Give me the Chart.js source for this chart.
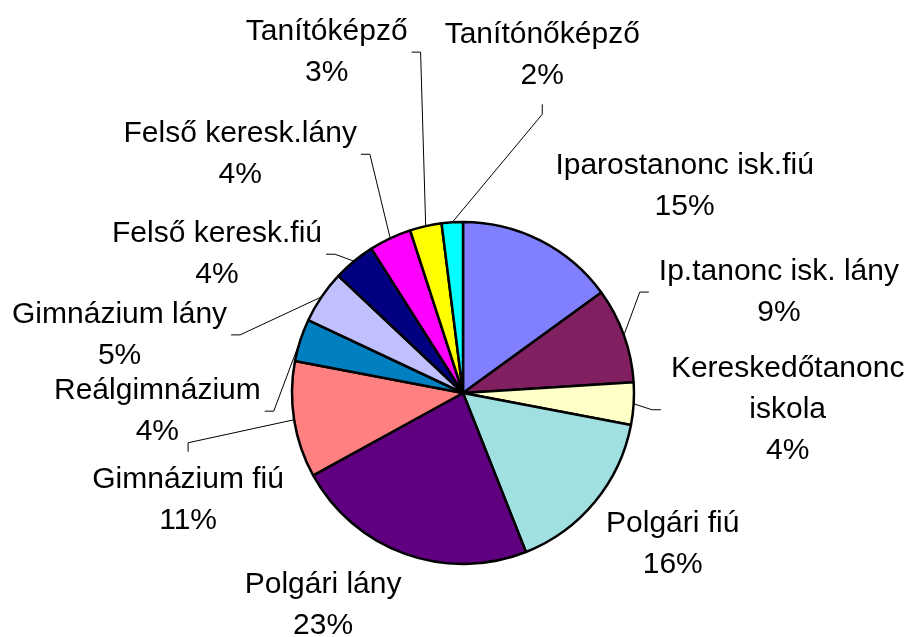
<!DOCTYPE html>
<html>
<head>
<meta charset="utf-8">
<script src="https://cdn.jsdelivr.net/npm/chart.js@4/dist/chart.umd.min.js"></script>
<style>
  html, body { margin: 0; padding: 0; background: #fff; }
  .chart-container { width: 909px; height: 637px; }
</style>
</head>
<body>
<div class="chart-container">
  <canvas id="pie" width="909" height="637"></canvas>
</div>
<script>
// school types, clockwise from 12 o'clock
const categories = [
  'Iparostanonc isk.fiú',
  'Ip.tanonc isk. lány',
  ['Kereskedőtanonc', 'iskola'],
  'Polgári fiú',
  'Polgári lány',
  'Gimnázium fiú',
  'Reálgimnázium',
  'Gimnázium lány',
  'Felső keresk.fiú',
  'Felső keresk.lány',
  'Tanítóképző',
  'Tanítónőképző'
];
const shares = [15, 9, 4, 16, 23, 11, 4, 5, 4, 4, 3, 2];

const sliceColors = [
  '#8080FF', '#802060', '#FFFFC8', '#A0E0E0', '#600080', '#FF8080',
  '#0080C0', '#C0C0FF', '#000080', '#FF00FF', '#FFFF00', '#00FFFF'
];

// label box offset from the slice's outer edge (at mid angle), and which side the leader leaves from
const labelShift = [
  [144, -54], [155, -43], [154, 6], [78, 42], [-82, 51], [-106, 80],
  [-143, 71], [-202, 38], [-137, -7], [-150, -84], [-99, -174], [90, -167]
];
const leaderSide = [
  null, 'left', 'left', null, null, 'top',
  'right', 'right', 'right', 'right', 'right', 'bottom'
];

const FONT_SIZE = 30;
const LINE_H = 41;

const outsideLabels = {
  id: 'outsideLabels',
  afterDraw(chart) {
    const ctx = chart.ctx;
    const meta = chart.getDatasetMeta(0);
    const data = chart.data.datasets[0].data;
    const total = data.reduce((a, b) => a + b, 0);

    ctx.save();
    ctx.font = FONT_SIZE + 'px "Liberation Sans", Arial, sans-serif';
    ctx.fillStyle = '#000';
    ctx.strokeStyle = '#000';
    ctx.lineWidth = 1;
    ctx.textAlign = 'center';
    ctx.textBaseline = 'middle';

    meta.data.forEach((arc, i) => {
      const { x, y, startAngle, endAngle, outerRadius } = arc.getProps(
        ['x', 'y', 'startAngle', 'endAngle', 'outerRadius'], true);
      const mid = (startAngle + endAngle) / 2;
      const ex = x + Math.cos(mid) * outerRadius;
      const ey = y + Math.sin(mid) * outerRadius;

      const name = chart.data.labels[i];
      const lines = (Array.isArray(name) ? name.slice() : [name]);
      lines.push(Math.round(data[i] / total * 100) + '%');

      const cx = ex + labelShift[i][0];
      const cy = ey + labelShift[i][1];
      const top = cy - lines.length * LINE_H / 2;
      let maxW = 0;
      lines.forEach((t, k) => {
        ctx.fillText(t, cx, top + LINE_H * (k + 0.5));
        maxW = Math.max(maxW, ctx.measureText(t).width);
      });

      // leader line: short stub off the label, then to the slice edge
      const side = leaderSide[i];
      if (!side) return;
      let p0, p1;
      if (side === 'right') {
        p0 = [cx + maxW / 2 + 4, cy];
        p1 = [p0[0] + 9, cy];
      } else if (side === 'left') {
        p0 = [cx - maxW / 2 - 10, cy];
        p1 = [p0[0] - 9, cy];
      } else if (side === 'top') {
        p0 = [cx, top - 7];
        p1 = [cx, p0[1] - 9];
      } else {
        p0 = [cx, top + lines.length * LINE_H + 8];
        p1 = [cx, p0[1] + 10];
      }
      ctx.beginPath();
      ctx.moveTo(p0[0], p0[1]);
      ctx.lineTo(p1[0], p1[1]);
      ctx.lineTo(ex, ey);
      ctx.stroke();
    });
    ctx.restore();
  }
};

const ctx = document.getElementById('pie').getContext('2d');
new Chart(ctx, {
  type: 'pie',
  data: {
    labels: categories,
    datasets: [{
      data: shares,
      backgroundColor: sliceColors,
      borderColor: '#000',
      borderWidth: 2.5
    }]
  },
  options: {
    responsive: false,
    animation: false,
    radius: 171,
    layout: { padding: { left: 17, right: 0, top: 149, bottom: 0 } },
    plugins: {
      legend: { display: false },
      tooltip: { enabled: false }
    }
  },
  plugins: [outsideLabels]
});
</script>
</body>
</html>
